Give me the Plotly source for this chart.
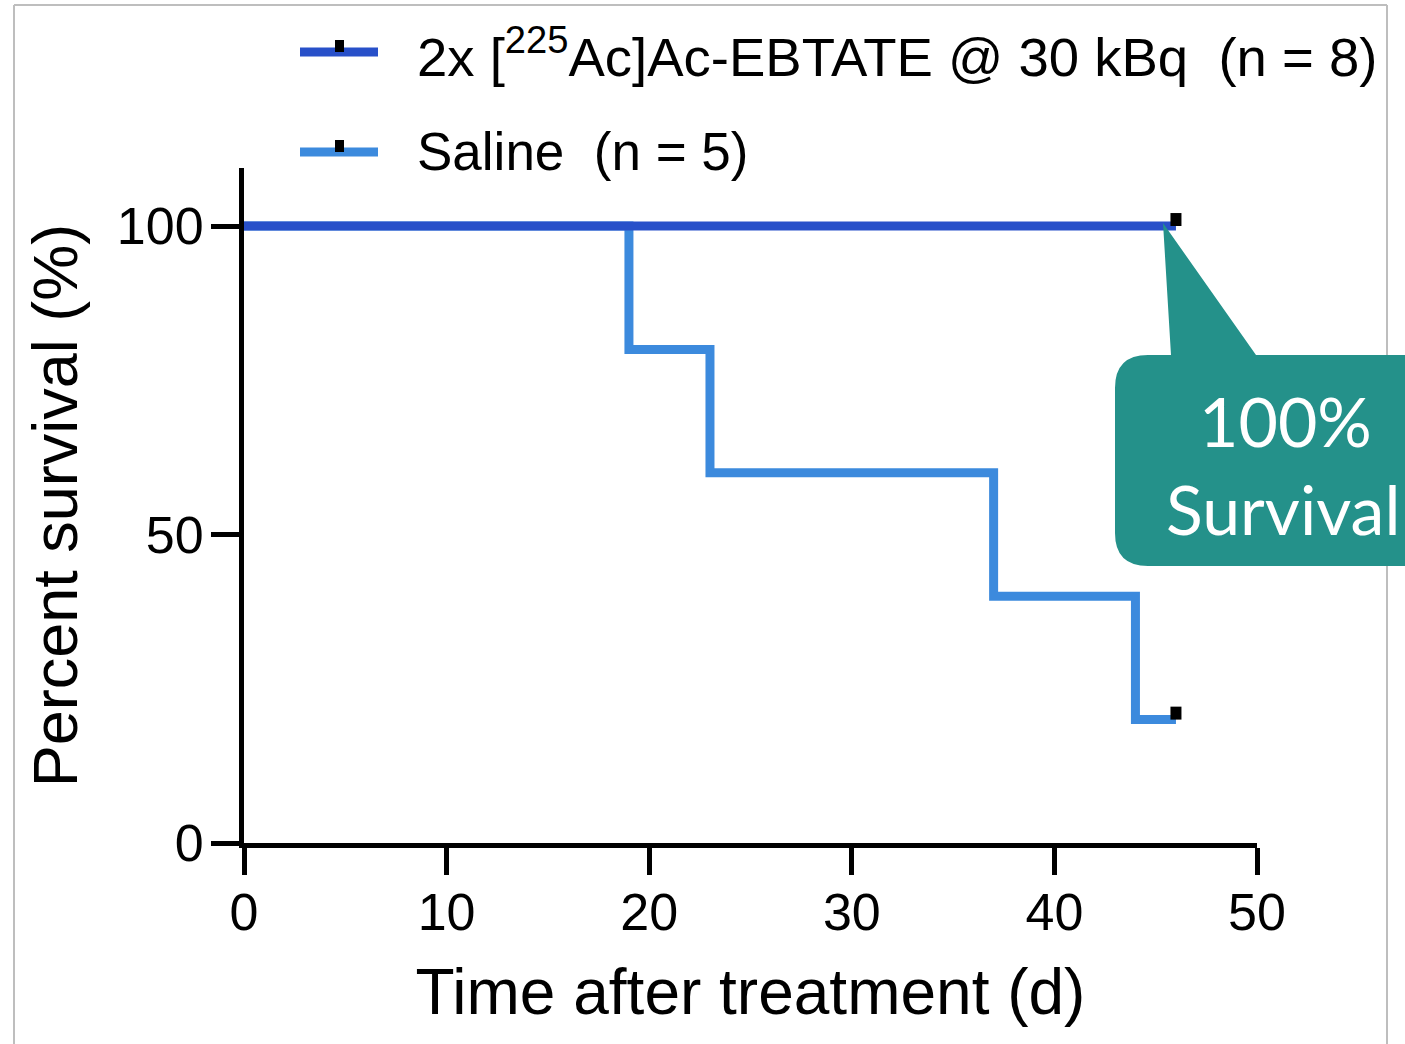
import plotly.graph_objects as go

# ---------------- data ----------------
saline_time = [0, 19, 23, 37, 44, 46]
saline_surv = [100, 80, 60, 40, 20, 20]
ebtate_time = [0, 46]
ebtate_surv = [100, 100]
censor_saline_time = [46]
censor_saline_surv = [20]
censor_ebtate_time = [46]
censor_ebtate_surv = [100]
x_ticks = [0, 10, 20, 30, 40, 50]
y_ticks = [0, 50, 100]
legend_labels = ["2x [<sup>225</sup>Ac]Ac-EBTATE @ 30 kBq\u00a0\u00a0(n = 8)",
                 "Saline\u00a0\u00a0(n = 5)"]
callout_lines = ["100%", "Survival"]

# ---------------- style ----------------
W, H = 1405, 1044
L, R, T, B = 244, 1257, 168, 843
DARK = "#2850C9"
LIGHT = "#3C8ADD"
TEAL = "#24918A"
FONT = "Liberation Sans, Arial, sans-serif"
LW = 9
CENSOR_LEN = 2.1  # tick height in % units


def px(x):
    return (x - L) / (R - L)


def py(y):
    return (B - y) / (B - T)


fig = go.Figure()

fig.add_trace(go.Scatter(x=saline_time, y=saline_surv, mode="lines",
                         line=dict(color=LIGHT, width=LW, shape="hv"),
                         showlegend=False, name="Saline"))
fig.add_trace(go.Scatter(x=ebtate_time, y=ebtate_surv, mode="lines",
                         line=dict(color=DARK, width=LW, shape="hv"),
                         showlegend=False, name="EBTATE"))

# censor ticks
for tx, sy in list(zip(censor_ebtate_time, censor_ebtate_surv)) + list(zip(censor_saline_time, censor_saline_surv)):
    fig.add_trace(go.Scatter(x=[tx, tx], y=[sy, sy + CENSOR_LEN], mode="lines",
                             line=dict(color="black", width=11),
                             showlegend=False, hoverinfo="skip"))

shapes = []
# image border
for (x0, y0, x1, y1) in [(14, 5, 14, 1060), (14, 5, 1387, 5), (1387, 5, 1387, 1060)]:
    shapes.append(dict(type="line", xref="paper", yref="paper",
                       x0=px(x0), y0=py(y0), x1=px(x1), y1=py(y1),
                       line=dict(color="#BEBEBE", width=2), layer="below"))

# custom legend
for i, (col, yc) in enumerate([(DARK, 52), (LIGHT, 152)]):
    shapes.append(dict(type="line", xref="paper", yref="paper",
                       x0=px(300), x1=px(378), y0=py(yc), y1=py(yc),
                       line=dict(color=col, width=9)))
    shapes.append(dict(type="rect", xref="paper", yref="paper",
                       x0=px(335), x1=px(344), y0=py(yc - 12), y1=py(yc),
                       fillcolor="black", line=dict(width=0)))

# callout
r = 33
pts = [("M", (1115 + r, 355)), ("L", (1171, 355)), ("L", (1163, 223)), ("L", (1256, 355)),
       ("L", (1425, 355)), ("L", (1425, 566)), ("L", (1115 + r, 566))]
path = " ".join(f"{c} {px(x):.5f},{py(y):.5f}" for c, (x, y) in pts)
path += f" Q {px(1115):.5f},{py(566):.5f} {px(1115):.5f},{py(566 - r):.5f}"
path += f" L {px(1115):.5f},{py(355 + r):.5f}"
path += f" Q {px(1115):.5f},{py(355):.5f} {px(1115 + r):.5f},{py(355):.5f} Z"
shapes.append(dict(type="path", xref="paper", yref="paper", path=path,
                   fillcolor=TEAL, line=dict(width=0), layer="above"))

annotations = []
for lab, yc, fs in zip(legend_labels, [53, 152], [54.5, 53]):
    annotations.append(dict(text=lab, xref="paper", yref="paper", x=px(415), y=py(yc),
                            xanchor="left", yanchor="middle", showarrow=False,
                            font=dict(family=FONT, size=fs, color="black")))
for txt, xc, yc in zip(callout_lines, [1285, 1283], [420, 508]):
    annotations.append(dict(text=txt, xref="paper", yref="paper", x=px(xc), y=py(yc),
                            xanchor="center", yanchor="middle", showarrow=False,
                            font=dict(family="Lato, Open Sans, sans-serif", size=68, color="white")))

fig.update_layout(
    width=W, height=H,
    margin=dict(l=L, r=W - R, t=T, b=H - B, pad=0),
    paper_bgcolor="white", plot_bgcolor="white",
    shapes=shapes, annotations=annotations,
    showlegend=False,
    font=dict(family=FONT, color="black"),
    xaxis=dict(range=[0, 50], tickvals=x_ticks, showline=True, linewidth=5, linecolor="black",
               ticks="outside", ticklen=27, tickwidth=5, tickcolor="black",
               showgrid=False, zeroline=False, tickfont=dict(size=52, family=FONT),
               ticklabelstandoff=-7,
               title=dict(text="Time after treatment (d)", font=dict(size=64, family=FONT), standoff=30)),
    yaxis=dict(range=[0, (B - T) / ((B - 226) / 100)], tickvals=y_ticks, showline=True, linewidth=5,
               linecolor="black", ticks="outside", ticklen=28, tickwidth=5, tickcolor="black",
               showgrid=False, zeroline=False, tickfont=dict(size=52, family=FONT),
               ticklabelstandoff=-3,
               title=dict(text="Percent survival (%)", font=dict(size=63, family=FONT), standoff=20)),
)

fig.write_html("out.html", config={"displayModeBar": False},
               post_script="document.body.style.margin='0px';")
